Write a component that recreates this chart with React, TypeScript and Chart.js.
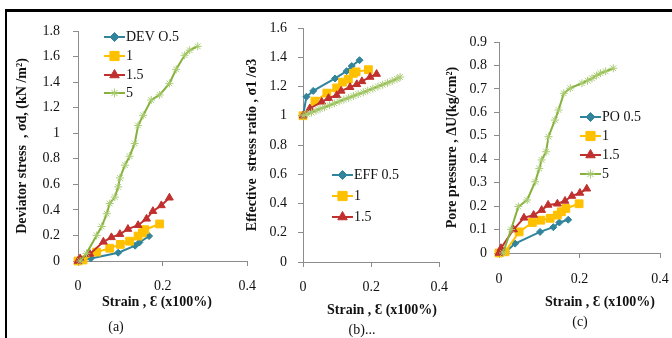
import React, { useEffect, useRef } from 'react';
import { Chart, registerables } from 'chart.js';
import { drawPoint } from 'chart.js/helpers';

Chart.register(...registerables);

const FONT = "'Liberation Serif', 'Times New Roman', serif";

// ---------- (a) Deviator stress ----------
const devStrain05 = [0, 0.01, 0.03, 0.095, 0.135, 0.145, 0.168];
const devStress05 = [0, 0.008, 0.02, 0.065, 0.12, 0.145, 0.195];
const devStrain1 = [0, 0.012, 0.044, 0.075, 0.1, 0.122, 0.142, 0.152, 0.158, 0.193];
const devStress1 = [0, 0.008, 0.07, 0.1, 0.13, 0.155, 0.195, 0.22, 0.245, 0.29];
const devStrain15 = [0, 0.005, 0.028, 0.06, 0.079, 0.099, 0.118, 0.142, 0.162, 0.177, 0.197, 0.216];
const devStress15 = [0, 0.02, 0.055, 0.15, 0.185, 0.21, 0.25, 0.28, 0.33, 0.39, 0.435, 0.495];
const devStrain5 = [0.005, 0.02, 0.044, 0.056, 0.068, 0.075, 0.087, 0.095, 0.099, 0.111, 0.122, 0.134, 0.142, 0.154, 0.173, 0.193, 0.216, 0.232, 0.252, 0.264, 0.283];
const devStress5 = [0, 0.06, 0.2, 0.27, 0.37, 0.45, 0.5, 0.58, 0.65, 0.75, 0.82, 0.92, 1.06, 1.14, 1.26, 1.3, 1.39, 1.5, 1.61, 1.65, 1.68];

// ---------- (b) Effective stress ratio ----------
const effStrain05 = [0, 0.01, 0.03, 0.094, 0.128, 0.143, 0.166];
const effRatio05 = [1.0, 1.13, 1.17, 1.255, 1.305, 1.34, 1.38];
const effStrain1 = [0, 0.035, 0.07, 0.099, 0.116, 0.133, 0.148, 0.156, 0.192];
const effRatio1 = [1.0, 1.1, 1.155, 1.19, 1.23, 1.25, 1.29, 1.3, 1.315];
const effStrain15 = [0, 0.02, 0.055, 0.075, 0.099, 0.112, 0.138, 0.158, 0.173, 0.197, 0.216];
const effRatio15 = [1.0, 1.05, 1.095, 1.12, 1.14, 1.17, 1.195, 1.215, 1.235, 1.265, 1.285];
const effStrain5 = [0, 0.012, 0.025, 0.038, 0.05, 0.063, 0.078, 0.092, 0.106, 0.12, 0.134, 0.148, 0.162, 0.177, 0.19, 0.205, 0.22, 0.234, 0.248, 0.262, 0.276, 0.285];
const effRatio5 = [1.0, 1.012, 1.022, 1.035, 1.048, 1.058, 1.072, 1.085, 1.098, 1.11, 1.122, 1.135, 1.148, 1.16, 1.172, 1.185, 1.2, 1.212, 1.225, 1.238, 1.252, 1.265];

// ---------- (c) Pore pressure ----------
const poStrain05 = [0, 0.017, 0.04, 0.102, 0.135, 0.15, 0.172];
const poPress05 = [0, 0.005, 0.04, 0.09, 0.11, 0.13, 0.142];
const poStrain1 = [0, 0.015, 0.05, 0.083, 0.104, 0.127, 0.145, 0.155, 0.166, 0.199];
const poPress1 = [0, 0.005, 0.09, 0.13, 0.14, 0.148, 0.162, 0.176, 0.19, 0.21];
const poStrain15 = [0, 0.005, 0.036, 0.062, 0.086, 0.106, 0.122, 0.145, 0.164, 0.181, 0.201, 0.218];
const poPress15 = [0, 0.02, 0.1, 0.15, 0.162, 0.183, 0.205, 0.21, 0.222, 0.243, 0.256, 0.274];
const poStrain5 = [0.01, 0.03, 0.048, 0.07, 0.09, 0.1, 0.106, 0.117, 0.123, 0.139, 0.148, 0.161, 0.177, 0.206, 0.22, 0.231, 0.242, 0.252, 0.265, 0.284];
const poPress5 = [0, 0.1, 0.198, 0.226, 0.304, 0.36, 0.397, 0.432, 0.496, 0.567, 0.61, 0.681, 0.703, 0.724, 0.735, 0.745, 0.757, 0.767, 0.775, 0.788];

// ---------- labels ----------
const xTitle = 'Strain , Ɛ (x100%)';
const yTitleA = 'Deviator stress  , σd, (kN /m²)';
const yTitleB = 'Effective  stress ratio , σ1 /σ3';
const yTitleC = 'Pore pressure , ΔU(kg/cm²)';
const legendA = ['DEV O.5', '1', '1.5', '5'];
const legendB = ['EFF 0.5', '1', '1.5'];
const legendC = ['PO 0.5', '1', '1.5', '5'];
const captions = ['(a)', '(b)...', '(c)'];

// ---------- styles ----------
const STYLES = [
  { line: '#31849B', fill: '#31849B', point: 'rectRot', r: 4.5 },
  { line: '#FFC000', fill: '#FFC000', point: 'rect', r: 6.5 },
  { line: '#C0302E', fill: '#C0302E', point: 'triangle', r: 5.5 },
  { line: '#86B23C', fill: '#A9CB72', point: 'star', r: 4.5 },
];

const legendPlugin = {
  id: 'inlineLegend',
  afterDraw(chart: any, _args: any, opts: any) {
    if (!opts || !opts.labels) return;
    const ctx = chart.ctx;
    ctx.save();
    opts.labels.forEach((label: string, i: number) => {
      const st = STYLES[i];
      const y = opts.ys[i];
      ctx.strokeStyle = st.line;
      ctx.lineWidth = 2;
      ctx.beginPath();
      ctx.moveTo(opts.x, y);
      ctx.lineTo(opts.x + opts.w, y);
      ctx.stroke();
      ctx.fillStyle = st.fill;
      ctx.strokeStyle = st.fill;
      ctx.lineWidth = 1;
      drawPoint(ctx, { pointStyle: st.point, radius: st.r, borderWidth: 1, rotation: 0 } as any, opts.x + opts.w / 2, y);
      ctx.fillStyle = '#111';
      ctx.font = `14px ${FONT}`;
      ctx.textBaseline = 'middle';
      ctx.textAlign = 'left';
      ctx.fillText(label, opts.x + opts.w + 1, y);
    });
    ctx.restore();
  },
};

type Spec = {
  left: number; top: number; width: number; height: number;
  pad: { left: number; right: number; top: number; bottom: number };
  yWidth: number; xHeight: number;
  yMax: number; yStep: number; yTickPad: number; xTickPad: number;
  yTitle: string;
  series: { x: number[]; y: number[] }[];
  legend: { labels: string[]; x: number; ys: number[]; w: number };
};

function makeConfig(s: Spec): any {
  const tickFont = { family: FONT, size: 14 };
  return {
    type: 'scatter',
    data: {
      datasets: s.series.map((ser, i) => ({
        label: String(i),
        data: ser.x.map((x, j) => ({ x, y: ser.y[j] })),
        showLine: true,
        borderColor: STYLES[i].line,
        backgroundColor: STYLES[i].fill,
        borderWidth: 2,
        pointStyle: STYLES[i].point,
        pointRadius: i === 3 ? 4 : STYLES[i].r - 1,
        pointBorderWidth: 1,
        pointBackgroundColor: STYLES[i].fill,
        pointBorderColor: STYLES[i].fill,
        tension: 0,
        clip: false,
        order: 4 - i,
      })),
    },
    options: {
      animation: false,
      responsive: false,
      maintainAspectRatio: false,
      layout: { padding: s.pad },
      plugins: {
        legend: { display: false },
        tooltip: { enabled: false },
        inlineLegend: s.legend,
      },
      scales: {
        x: {
          type: 'linear',
          min: 0,
          max: 0.4,
          ticks: { stepSize: 0.2, padding: s.xTickPad, font: tickFont, color: '#111', maxRotation: 0 },
          grid: { drawOnChartArea: false, tickLength: 5, color: '#8c8c8c' },
          border: { color: '#8c8c8c', width: 1 },
          afterFit: (sc: any) => { sc.height = s.xHeight; },
        },
        y: {
          type: 'linear',
          min: 0,
          max: s.yMax,
          ticks: {
            stepSize: s.yStep,
            padding: s.yTickPad,
            font: tickFont,
            color: '#111',
            callback: (v: number) => String(Math.round(v * 10) / 10),
          },
          grid: { drawOnChartArea: false, tickLength: 5, color: '#8c8c8c' },
          border: { color: '#8c8c8c', width: 1 },
          title: { display: true, text: s.yTitle, font: { family: FONT, size: 14, weight: 'bold' }, color: '#111', padding: 0 },
          afterFit: (sc: any) => { sc.width = s.yWidth; },
        },
      },
    },
    plugins: [legendPlugin],
  };
}

const specA: Spec = {
  left: 0, top: 0, width: 268, height: 338,
  pad: { left: 14, right: 20, top: 31, bottom: 28 },
  yWidth: 64, xHeight: 49,
  yMax: 1.8, yStep: 0.2, yTickPad: 13, xTickPad: 12,
  yTitle: yTitleA,
  series: [
    { x: devStrain05, y: devStress05 },
    { x: devStrain1, y: devStress1 },
    { x: devStrain15, y: devStress15 },
    { x: devStrain5, y: devStress5 },
  ],
  legend: { labels: legendA, x: 104, ys: [37, 56, 75, 93], w: 21 },
};

const specB: Spec = {
  left: 230, top: 0, width: 230, height: 338,
  pad: { left: 14, right: 20, top: 28, bottom: 20 },
  yWidth: 59, xHeight: 56,
  yMax: 1.6, yStep: 0.2, yTickPad: 11, xTickPad: 12,
  yTitle: yTitleB,
  series: [
    { x: effStrain05, y: effRatio05 },
    { x: effStrain1, y: effRatio1 },
    { x: effStrain15, y: effRatio15 },
    { x: effStrain5, y: effRatio5 },
  ],
  legend: { labels: legendB, x: 102, ys: [175, 196, 217], w: 21 },
};

const specC: Spec = {
  left: 438, top: 0, width: 244, height: 338,
  pad: { left: 6, right: 22, top: 42, bottom: 36 },
  yWidth: 55, xHeight: 49,
  yMax: 0.9, yStep: 0.1, yTickPad: 7, xTickPad: 13,
  yTitle: yTitleC,
  series: [
    { x: poStrain05, y: poPress05 },
    { x: poStrain1, y: poPress1 },
    { x: poStrain15, y: poPress15 },
    { x: poStrain5, y: poPress5 },
  ],
  legend: { labels: legendC, x: 142, ys: [117, 136, 155, 174], w: 21 },
};

function Panel({ spec }: { spec: Spec }) {
  const ref = useRef<HTMLCanvasElement | null>(null);
  useEffect(() => {
    if (!ref.current) return;
    const chart = new Chart(ref.current, makeConfig(spec));
    return () => chart.destroy();
  }, [spec]);
  return (
    <canvas
      ref={ref}
      width={spec.width}
      height={spec.height}
      style={{ position: 'absolute', left: spec.left, top: spec.top, width: spec.width, height: spec.height }}
    />
  );
}

function Label({ text, cx, cy, bold }: { text: string; cx: number; cy: number; bold?: boolean }) {
  return (
    <div
      style={{
        position: 'absolute',
        left: cx,
        top: cy,
        transform: 'translate(-50%, -50%)',
        whiteSpace: 'pre',
        fontFamily: FONT,
        fontSize: 14,
        fontWeight: bold ? 'bold' : 'normal',
        lineHeight: '16px',
        color: '#111',
      }}
    >
      {text}
    </div>
  );
}

export default function App() {
  return (
    <div style={{ position: 'fixed', left: 0, top: 0, width: 672, height: 338, overflow: 'hidden', background: '#fff' }}>
      <div style={{ position: 'absolute', left: 5, top: 9, width: 700, height: 400, borderTop: '3px solid #000', borderLeft: '2px solid #000' }} />
      <Panel spec={specA} />
      <Panel spec={specB} />
      <Panel spec={specC} />
      <Label text={xTitle} cx={157} cy={302} bold />
      <Label text={xTitle} cx={382} cy={310} bold />
      <Label text={xTitle} cx={600} cy={302} bold />
      <Label text={captions[0]} cx={116} cy={327} />
      <Label text={captions[1]} cx={362} cy={330} />
      <Label text={captions[2]} cx={580} cy={322} />
    </div>
  );
}
